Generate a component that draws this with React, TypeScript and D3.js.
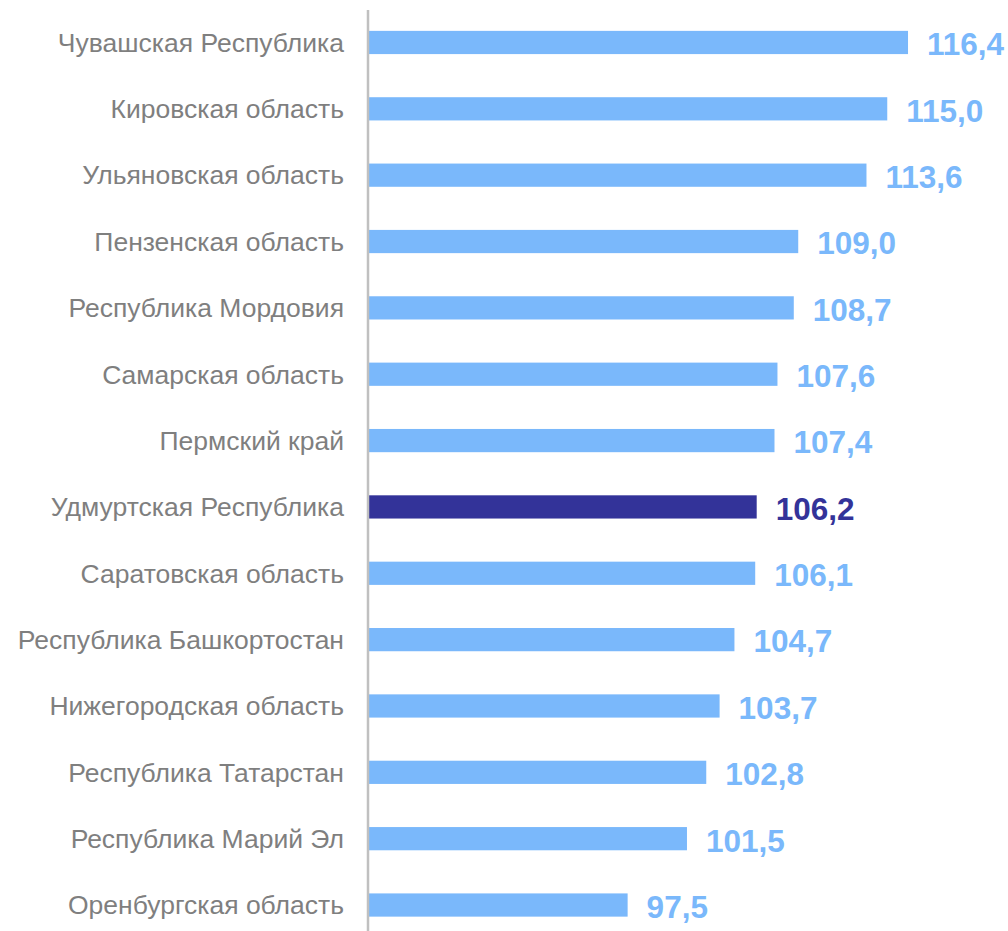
import React, { useEffect, useRef } from "react";
import * as d3 from "d3";

const regions = [
  "Чувашская Республика",
  "Кировская область",
  "Ульяновская область",
  "Пензенская область",
  "Республика Мордовия",
  "Самарская область",
  "Пермский край",
  "Удмуртская Республика",
  "Саратовская область",
  "Республика Башкортостан",
  "Нижегородская область",
  "Республика Татарстан",
  "Республика Марий Эл",
  "Оренбургская область",
];
const values = [116.4, 115.0, 113.6, 109.0, 108.7, 107.6, 107.4, 106.2, 106.1, 104.7, 103.7, 102.8, 101.5, 97.5];
const highlight = "Удмуртская Республика";

const App = () => {
  const svgRef = useRef<SVGSVGElement>(null);

  useEffect(() => {
    const w = 1008;
    const h = 931;
    const axisX = 368;

    const svg = d3.select(svgRef.current).attr("width", w).attr("height", h);
    svg.selectAll("*").remove();

    const data = regions.map((r, i) => ({ region: r, value: values[i] }));

    const xScale = d3.scaleLinear().domain([80, 122.6]).range([axisX, 1000]);
    const yScale = d3
      .scaleBand()
      .domain(regions)
      .range([9.3, 938.2])
      .paddingInner(0.65)
      .paddingOuter(0.325);

    const color = (d) => (d.region === highlight ? "#333399" : "#7ab8fb");

    svg
      .append("g")
      .selectAll("rect")
      .data(data)
      .enter()
      .append("rect")
      .attr("x", xScale(80))
      .attr("y", (d) => yScale(d.region))
      .attr("width", (d) => xScale(d.value) - xScale(80))
      .attr("height", yScale.bandwidth())
      .attr("fill", color);

    // category axis line
    svg
      .append("line")
      .attr("x1", axisX)
      .attr("x2", axisX)
      .attr("y1", 10)
      .attr("y2", h)
      .attr("stroke", "#c0c0c0")
      .attr("stroke-width", 2.5);

    svg
      .append("g")
      .selectAll("text")
      .data(data)
      .enter()
      .append("text")
      .attr("x", 344)
      .attr("y", (d) => yScale(d.region) + yScale.bandwidth() / 2)
      .attr("dy", "0.35em")
      .attr("text-anchor", "end")
      .attr("font-family", "'Liberation Sans', Arial, sans-serif")
      .attr("font-size", 26.5)
      .attr("fill", "#7f7f7f")
      .text((d) => d.region);

    svg
      .append("g")
      .selectAll("text")
      .data(data)
      .enter()
      .append("text")
      .attr("x", (d) => xScale(d.value) + 19)
      .attr("y", (d) => yScale(d.region) + yScale.bandwidth() / 2 + 1.5)
      .attr("dy", "0.36em")
      .attr("font-family", "'Liberation Sans', Arial, sans-serif")
      .attr("font-size", 31.5)
      .attr("font-weight", "bold")
      .attr("fill", color)
      .text((d) => d.value.toFixed(1).replace(".", ","));
  }, []);

  return (
    <div style={{ position: "absolute", left: 0, top: 0 }}>
      <svg ref={svgRef} style={{ display: "block" }}></svg>
    </div>
  );
};

export default App;
